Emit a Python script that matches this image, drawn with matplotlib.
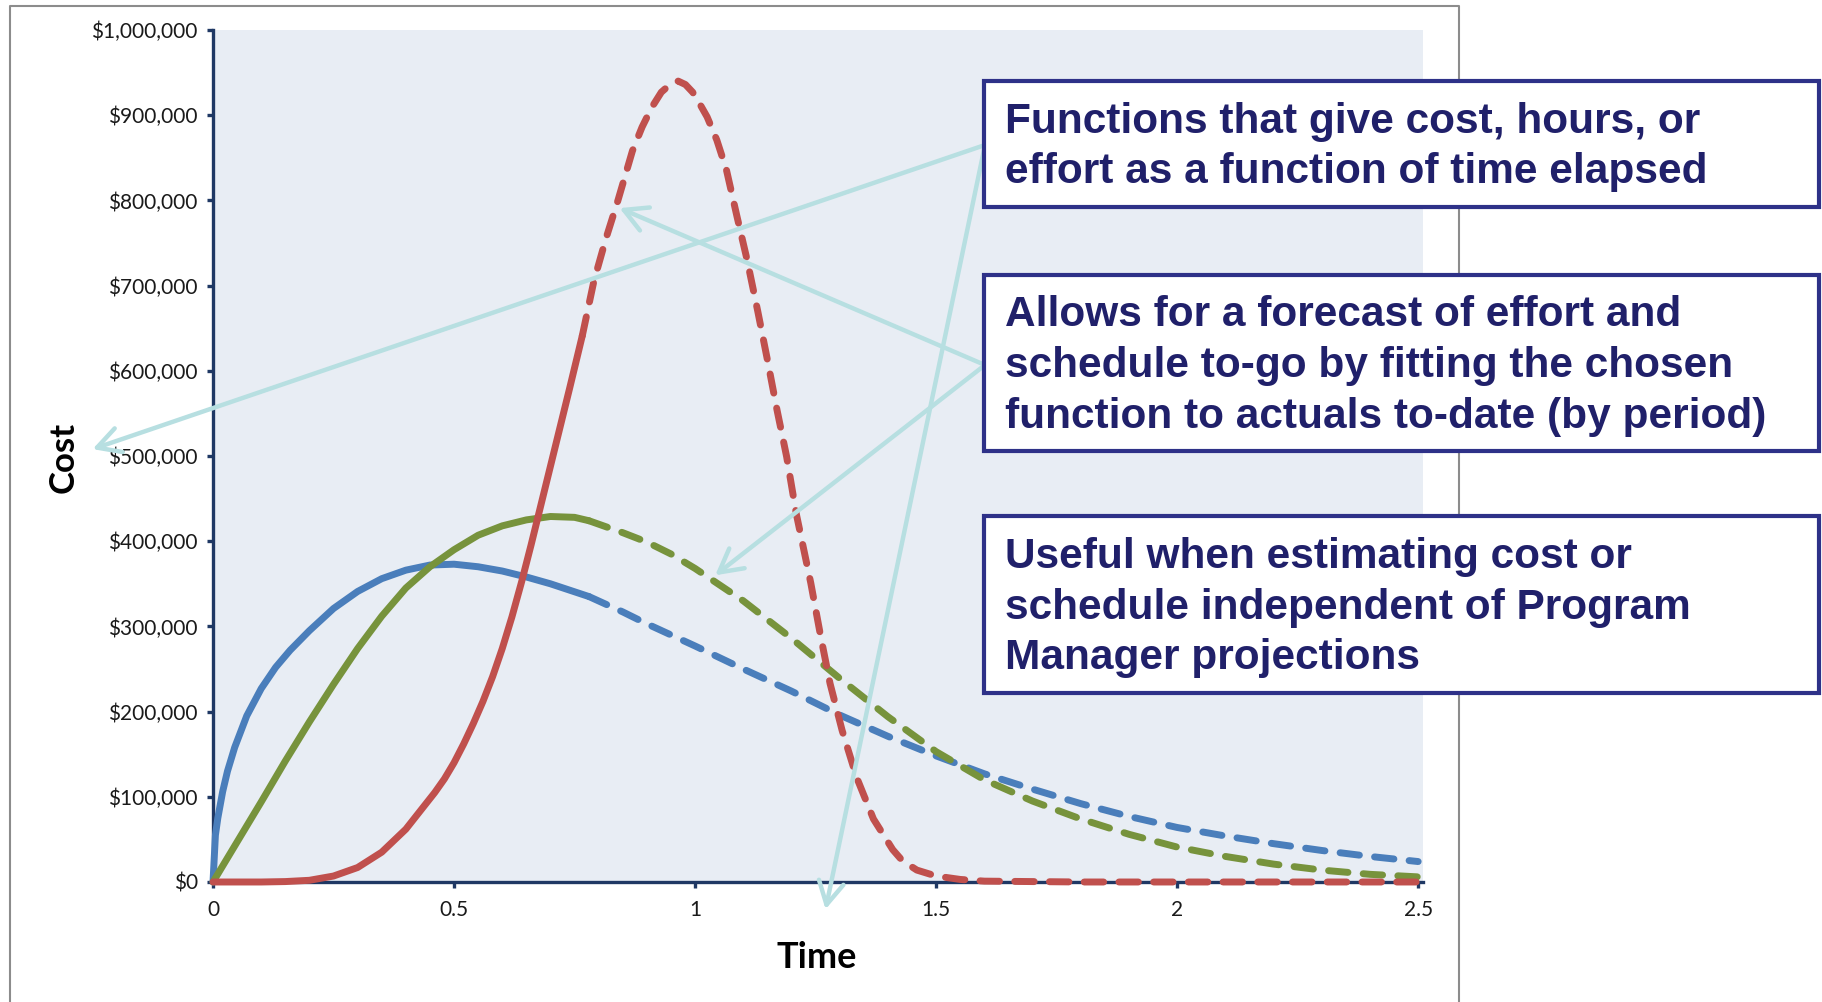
import matplotlib
matplotlib.use('Agg')
import matplotlib.pyplot as plt
from matplotlib.patches import Rectangle, FancyArrowPatch
from matplotlib.lines import Line2D
from matplotlib.ticker import FuncFormatter, MultipleLocator

plt.rcParams['font.family'] = ['Lato', 'DejaVu Sans']

# courbes de dépense (en milliers de dollars) en fonction du temps
t_blue = [0, 0.005, 0.01, 0.02, 0.03, 0.045, 0.07, 0.1, 0.13, 0.16, 0.2, 0.25, 0.3, 0.35,
          0.4, 0.45, 0.5, 0.55, 0.6, 0.65, 0.7, 0.78, 0.85, 0.9, 1.0, 1.1, 1.2, 1.3, 1.4,
          1.5, 1.6, 1.7, 1.8, 1.9, 2.0, 2.1, 2.2, 2.3, 2.4, 2.5]
cost_blue = [0, 55, 75, 106, 130, 158, 195, 227, 252, 272, 295, 321, 341, 356,
             366, 372, 373, 370, 365, 358, 350, 335, 317, 303, 277, 250, 224, 196, 171,
             148, 127, 109, 92, 77, 64, 54, 45, 37, 30, 24]

t_green = [0, 0.05, 0.1, 0.15, 0.2, 0.25, 0.3, 0.35, 0.4, 0.45, 0.5, 0.55, 0.6, 0.65, 0.7,
           0.75, 0.78, 0.85, 0.9, 0.95, 1.0, 1.1, 1.2, 1.3, 1.4, 1.5, 1.6, 1.7, 1.8, 1.9,
           2.0, 2.1, 2.2, 2.3, 2.4, 2.5]
cost_green = [0, 47, 94, 142, 188, 232, 274, 312, 345, 370, 390, 407, 418, 425, 429,
              428, 424, 410, 399, 385, 368, 330, 286, 239, 194, 153, 120, 95, 74, 56,
              41, 30, 21, 14, 9, 6]

t_red = [0, 0.1, 0.15, 0.2, 0.25, 0.3, 0.35, 0.4, 0.46, 0.48, 0.5, 0.52, 0.54, 0.56, 0.58,
         0.6, 0.62, 0.64, 0.66, 0.68, 0.7, 0.72, 0.74, 0.766, 0.79, 0.815, 0.84, 0.87,
         0.89, 0.91, 0.93, 0.95, 0.965, 0.98, 0.995, 1.01, 1.025, 1.045, 1.065, 1.087,
         1.108, 1.13, 1.15, 1.17, 1.19, 1.21, 1.24, 1.26, 1.28, 1.305, 1.335, 1.37, 1.41,
         1.43, 1.46, 1.5, 1.55, 1.6, 1.8, 2.0, 2.25, 2.5]
cost_red = [0, 0, 0.5, 2, 7, 17, 35, 62, 105, 121, 140, 162, 186, 212, 241,
            274, 311, 352, 396, 442, 488, 534, 580, 641, 705, 755, 800, 858,
            886, 909, 927, 937, 940, 936, 927, 913, 898, 871, 836, 781,
            730, 670, 613, 554, 499, 432, 351, 290, 233, 178, 123, 74, 38,
            25, 14, 7, 3, 1, 0, 0, 0, 0]

# fin des réels, début de la prévision
split_blue = 0.78
split_green = 0.78
split_red = 0.766

box_texts = ['Functions that give cost, hours, or\neffort as a function of time elapsed',
             'Allows for a forecast of effort and\nschedule to-go by fitting the chosen\n'
             'function to actuals to-date (by period)',
             'Useful when estimating cost or\nschedule independent of Program\n'
             'Manager projections']

W, H = 1822, 1002


def fx(x):
    return x / W


def fy(y):
    return 1 - y / H


fig = plt.figure(figsize=(W / 100, H / 100), dpi=100)
fig.patch.set_facecolor('white')

# cadre gris
frame_col = '#8C8C8C'
fig.add_artist(Line2D([fx(10), fx(10), fx(1459), fx(1459)], [0, fy(6), fy(6), 0],
                      transform=fig.transFigure, color=frame_col, lw=1.5))

ax = fig.add_axes([fx(213), fy(882), fx(1423) - fx(213), fy(30) - fy(882)])
ax.set_facecolor('#E8EDF4')

spine_col = '#1F3864'
for s in ['top', 'right']:
    ax.spines[s].set_visible(False)
for s in ['left', 'bottom']:
    ax.spines[s].set_color(spine_col)
    ax.spines[s].set_linewidth(2.4)

ax.set_xlim(0, 2.51)
ax.set_ylim(0, 1000000)
ax.xaxis.set_major_locator(MultipleLocator(0.5))
ax.yaxis.set_major_locator(MultipleLocator(100000))
ax.xaxis.set_major_formatter(FuncFormatter(lambda v, p: '%g' % v))
ax.yaxis.set_major_formatter(FuncFormatter(lambda v, p: '\\${:,.0f}'.format(v)))
ax.tick_params(axis='both', direction='out', length=4, width=2.4, color=spine_col,
               labelsize=15, labelcolor='#1A1A1A')
ax.tick_params(axis='y', pad=7)
ax.tick_params(axis='x', pad=9)


def trace(t, c, split, col):
    t1 = [a for a in t if a <= split]
    c1 = [c[i] * 1000 for i in range(len(t)) if t[i] <= split]
    t2 = [a for a in t if a >= split]
    c2 = [c[i] * 1000 for i in range(len(t)) if t[i] >= split]
    ax.plot(t1, c1, color=col, lw=5, solid_capstyle='round', solid_joinstyle='round',
            zorder=3, clip_on=False)
    l, = ax.plot(t2, c2, color=col, lw=5, zorder=3, clip_on=False)
    l.set_dashes((2.8, 2.2))
    l.set_dash_capstyle('round')


trace(t_blue, cost_blue, split_blue, '#4A7EBB')
trace(t_green, cost_green, split_green, '#77933C')
trace(t_red, cost_red, split_red, '#C0504D')

fig.text(fx(64), fy(457), 'Cost', rotation=90, ha='center', va='center',
         fontsize=25, fontweight='bold', color='black')
fig.text(fx(817), fy(957), 'Time', ha='center', va='center',
         fontsize=26, fontweight='bold', color='black')

# flèches vers les courbes
arrow_col = '#B7DFE1'
arrows = [((985, 145), (90, 450)), ((985, 145), (825, 912)),
          ((985, 365), (617, 207)), ((985, 365), (713, 577))]
for (x0, y0), (x1, y1) in arrows:
    fig.add_artist(FancyArrowPatch(
        (fx(x0), fy(y0)), (fx(x1), fy(y1)), transform=fig.transFigure,
        arrowstyle='->,head_length=11,head_width=6', mutation_scale=1.5,
        color=arrow_col, lw=3.2, zorder=5))

# encadrés de texte
boxes = [(81, 207), (275, 451), (516, 693)]
for (top, bot), txt in zip(boxes, box_texts):
    fig.add_artist(Rectangle((fx(984), fy(bot)), fx(1819) - fx(984), fy(top) - fy(bot),
                             transform=fig.transFigure, facecolor='white',
                             edgecolor='#2E3188', lw=3, zorder=6))
    fig.text(fx(1005), fy((top + bot) / 2 + 3), txt, ha='left', va='center',
             family='Liberation Sans', fontsize=30.5, fontweight='bold',
             color='#20206A', linespacing=1.35, zorder=7)

plt.savefig('out.png', dpi=100)
